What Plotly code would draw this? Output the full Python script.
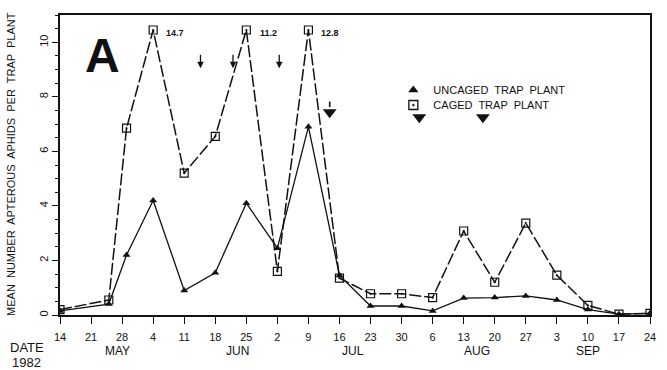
import plotly.graph_objects as go

# ---------------- data ----------------
dates = ["1982-05-14", "1982-05-25", "1982-05-29", "1982-06-04", "1982-06-11",
         "1982-06-18", "1982-06-25", "1982-07-02", "1982-07-09", "1982-07-16",
         "1982-07-23", "1982-07-30", "1982-08-06", "1982-08-13", "1982-08-20",
         "1982-08-27", "1982-09-03", "1982-09-10", "1982-09-17", "1982-09-24"]
uncaged = [0.15, 0.40, 2.2, 4.2, 0.9, 1.55, 4.1, 2.45, 6.9, 1.45,
           0.33, 0.33, 0.15, 0.62, 0.64, 0.70, 0.55, 0.20, 0.03, 0.06]
caged = [0.20, 0.55, 6.85, 14.7, 5.2, 6.55, 11.2, 1.6, 12.8, 1.35,
         0.78, 0.78, 0.64, 3.08, 1.20, 3.37, 1.46, 0.35, 0.03, 0.06]
CLIP = 10.45  # values above the axis top are drawn at the top and labelled

tick_dates = ["1982-05-14", "1982-05-21", "1982-05-28", "1982-06-04", "1982-06-11",
              "1982-06-18", "1982-06-25", "1982-07-02", "1982-07-09", "1982-07-16",
              "1982-07-23", "1982-07-30", "1982-08-06", "1982-08-13", "1982-08-20",
              "1982-08-27", "1982-09-03", "1982-09-10", "1982-09-17", "1982-09-24"]
tick_text = ["14", "21", "28", "4", "11", "18", "25", "2", "9", "16",
             "23", "30", "6", "13", "20", "27", "3", "10", "17", "24"]
month_names = ["MAY", "JUN", "JUL", "AUG", "SEP"]
month_pos = ["1982-05-27", "1982-06-23", "1982-07-19", "1982-08-16", "1982-09-10"]

# event markers
thin_arrow_dates = ["1982-06-14T16:00", "1982-06-22T00:00", "1982-07-02T10:00"]
thin_arrow_y = 9.05
bold_tri_dates = ["1982-07-13T19:00", "1982-08-03T00:00", "1982-08-17T08:00"]
bold_tri_y = [7.43, 7.25, 7.25]

FONT = "Liberation Sans Narrow, Liberation Sans, Arial, sans-serif"
INK = "#111111"

caged_plot = [min(v, CLIP) for v in caged]

fig = go.Figure()

fig.add_trace(go.Scatter(
    x=dates, y=caged_plot, mode="lines+markers", showlegend=False,
    line=dict(color=INK, width=1.5, dash="12px,3px"),
    marker=dict(symbol="square-open-dot", size=8, color=INK, line=dict(width=1.2, color=INK)),
))
fig.add_trace(go.Scatter(
    x=dates, y=uncaged, mode="lines+markers", showlegend=False,
    line=dict(color=INK, width=1.3),
    marker=dict(symbol="triangle-up", size=7, color=INK),
))
# legend-only entries (markers only, like the original key)
fig.add_trace(go.Scatter(
    x=[None], y=[None], mode="markers", name="UNCAGED  TRAP  PLANT", legend="legend",
    marker=dict(symbol="triangle-up", size=9, color=INK),
))
fig.add_trace(go.Scatter(
    x=[None], y=[None], mode="markers", name="CAGED  TRAP  PLANT", legend="legend2",
    marker=dict(symbol="square-open-dot", size=9, color=INK, line=dict(width=1.3, color=INK)),
))
# bold filled down triangles
fig.add_trace(go.Scatter(
    x=bold_tri_dates, y=bold_tri_y, mode="markers", showlegend=False,
    marker=dict(symbol="triangle-down", size=12, color=INK),
))

annotations = []
# values of clipped peaks
for d, v in zip(dates, caged):
    if v > CLIP:
        annotations.append(dict(x=d, y=CLIP, xref="x", yref="y", text=f"<b>{v}</b>",
                                showarrow=False, xshift=22, yshift=-3,
                                font=dict(family="Liberation Sans, Arial", size=9, color=INK)))
# thin arrows
for d in thin_arrow_dates:
    annotations.append(dict(x=d, y=thin_arrow_y, xref="x", yref="y", text="",
                            showarrow=True, ax=0, ay=-15, arrowhead=2, arrowsize=1,
                            arrowwidth=1.3, arrowcolor=INK))
# stem above first bold triangle
annotations.append(dict(x=bold_tri_dates[0], y=bold_tri_y[0] + 0.2, xref="x", yref="y", text="",
                        showarrow=True, ax=0, ay=-7, arrowhead=0, arrowwidth=1.6, arrowcolor=INK))
# month labels
for m, d in zip(month_names, month_pos):
    annotations.append(dict(x=d, y=-0.12, xref="x", yref="paper", text=m, showarrow=False,
                            xanchor="center", yanchor="middle",
                            font=dict(family=FONT, size=12, color=INK)))
# DATE 1982
annotations.append(dict(x=-0.056, y=-0.108, xref="paper", yref="paper", text="DATE",
                        showarrow=False, xanchor="center", yanchor="middle",
                        font=dict(family="Liberation Sans, Arial", size=13, color=INK)))
annotations.append(dict(x=-0.056, y=-0.157, xref="paper", yref="paper", text="1982",
                        showarrow=False, xanchor="center", yanchor="middle",
                        font=dict(family="Liberation Sans, Arial", size=13, color=INK)))
# y title
annotations.append(dict(x=-0.084, y=0.505, xref="paper", yref="paper",
                        text="MEAN  NUMBER  APTEROUS  APHIDS  PER  TRAP  PLANT",
                        textangle=-90, showarrow=False, xanchor="center", yanchor="middle",
                        font=dict(family=FONT, size=11, color=INK)))
# panel letter
annotations.append(dict(x=0.072, y=0.865, xref="paper", yref="paper", text="<b>A</b>",
                        showarrow=False, xanchor="center", yanchor="middle",
                        font=dict(family="Liberation Sans, Arial", size=48, color=INK)))

legend_common = dict(xanchor="left", yanchor="middle", bgcolor="rgba(0,0,0,0)",
                     itemwidth=30, font=dict(family=FONT, size=11, color=INK))
fig.update_layout(
    width=667, height=370,
    margin=dict(l=60, r=11, t=15, b=55),
    paper_bgcolor="white", plot_bgcolor="white",
    annotations=annotations,
    legend=dict(x=0.565, y=0.75, **legend_common),
    legend2=dict(x=0.565, y=0.70, **legend_common),
)
fig.update_xaxes(
    type="date", range=["1982-05-14", "1982-09-24"],
    tickvals=tick_dates, ticktext=tick_text,
    ticks="outside", ticklen=7, tickwidth=1.3, tickcolor=INK,
    ticklabelstandoff=4,
    showline=True, linewidth=2, linecolor=INK, mirror=True,
    showgrid=False, zeroline=False,
    tickfont=dict(family="Liberation Sans, Arial", size=11, color=INK),
)
fig.update_yaxes(
    range=[0, 11], tickvals=[0, 2, 4, 6, 8, 10],
    ticks="outside", ticklen=6, tickwidth=1.3, tickcolor=INK, tickangle=-90,
    minor=dict(dtick=0.5, ticks="outside", ticklen=3, tickwidth=1, tickcolor=INK),
    showline=True, linewidth=1.6, linecolor=INK, mirror=True,
    showgrid=False, zeroline=False,
    tickfont=dict(family="Liberation Sans, Arial", size=11, color=INK),
)

fig.write_html("out.html")
